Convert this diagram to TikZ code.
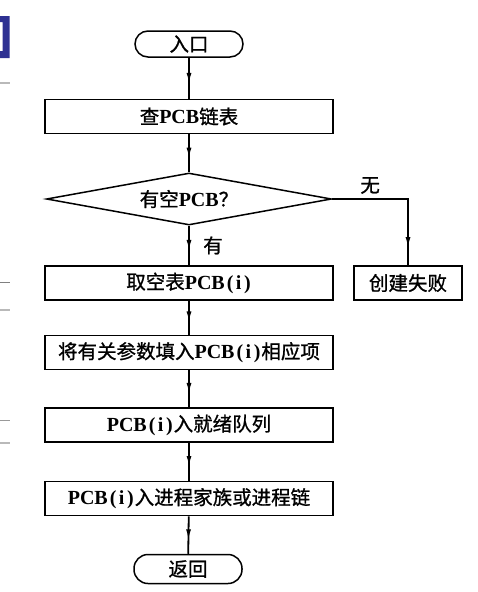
\documentclass[tikz,border=0pt]{standalone}
\usepackage{fontspec}
\setmainfont{Liberation Serif}
\newfontfamily\cjk[FakeBold=1]{Noto Sans CJK SC}
\usetikzlibrary{shapes.geometric,arrows.meta,decorations.markings}
\definecolor{markblue}{RGB}{46,49,146}
\newcommand{\zh}[1]{{\cjk\mdseries\fontsize{19.5}{21}\selectfont #1}}
\newcommand{\pcbi}{PCB\kern2pt(\kern2.5pt i\kern2.5pt)\kern1pt}

\tikzstyle{every node}=[font=\bfseries\fontsize{20}{22}\selectfont]
\tikzstyle{procbox}=[draw=black,line width=1.8pt,minimum width=288pt,minimum height=34pt,inner sep=0pt]
\tikzstyle{terminal}=[draw=black,line width=1.5pt,rounded corners=13pt,minimum width=108pt,minimum height=26pt,inner sep=0pt]
\tikzstyle{decision}=[draw=black,line width=1.5pt,diamond,aspect=5,minimum width=285pt,minimum height=52pt,inner sep=0pt]
\tikzset{flow/.style={line width=1.8pt,postaction={decorate},
  decoration={markings,mark=at position #1 with {\arrow{Latex[length=11pt,width=5pt]}}}},
  flow/.default=0.64}

\begin{document}
\begin{tikzpicture}[x=1pt,y=-1pt]
  \useasboundingbox (0,0) rectangle (478,592);

  \fill[markblue] (0,16) -- (9.5,16) -- (9.5,58) -- (0,58) -- (0,51) -- (2.7,51) -- (2.7,22) -- (0,22) -- cycle;
  \draw[gray!55,line width=2pt] (0,83) -- (10,83);
  \draw[gray,line width=1pt] (0,282) -- (10,282);
  \draw[gray!55,line width=2pt] (0,310) -- (10,310);
  \draw[gray!80,line width=1pt] (0,420) -- (10,420);
  \draw[gray!55,line width=2pt] (0,443) -- (10,443);

  \node[terminal] (entry) at (189,44) {\zh{入口}};
  \node[procbox] (lookup) at (189,116.5) {\zh{查}PCB\zh{链表}};
  \node[decision] (check) at (189,199) {\zh{有空}PCB\zh{？}};
  \node[procbox] (take) at (189,283) {\zh{取空表}\pcbi};
  \node[procbox,minimum width=108pt] (fail) at (408,283) {\zh{创建失败}};
  \node[procbox] (fill) at (189,352.5) {\zh{将有关参数填入}\pcbi\zh{相应项}};
  \node[procbox] (ready) at (189,425) {\pcbi\zh{入就绪队列}};
  \node[procbox] (family) at (189,498.5) {\pcbi\zh{入进程家族或进程链}};
  \node[terminal,minimum height=29pt,rounded corners=14pt] (ret) at (188,569) {\zh{返回}};

  \draw[flow] (entry) -- (lookup);
  \draw[flow] (lookup) -- (check);
  \draw[flow] (check) -- (take) node[midway,right=10pt] {\zh{有}};
  \draw[flow=0.88] (check.east) -| (fail) node[pos=0.25,above=1pt] {\zh{无}};
  \draw[flow] (take) -- (fill);
  \draw[flow] (fill) -- (ready);
  \draw[flow] (ready) -- (family);
  \draw[flow] (family) -- (ret);
\end{tikzpicture}
\end{document}
